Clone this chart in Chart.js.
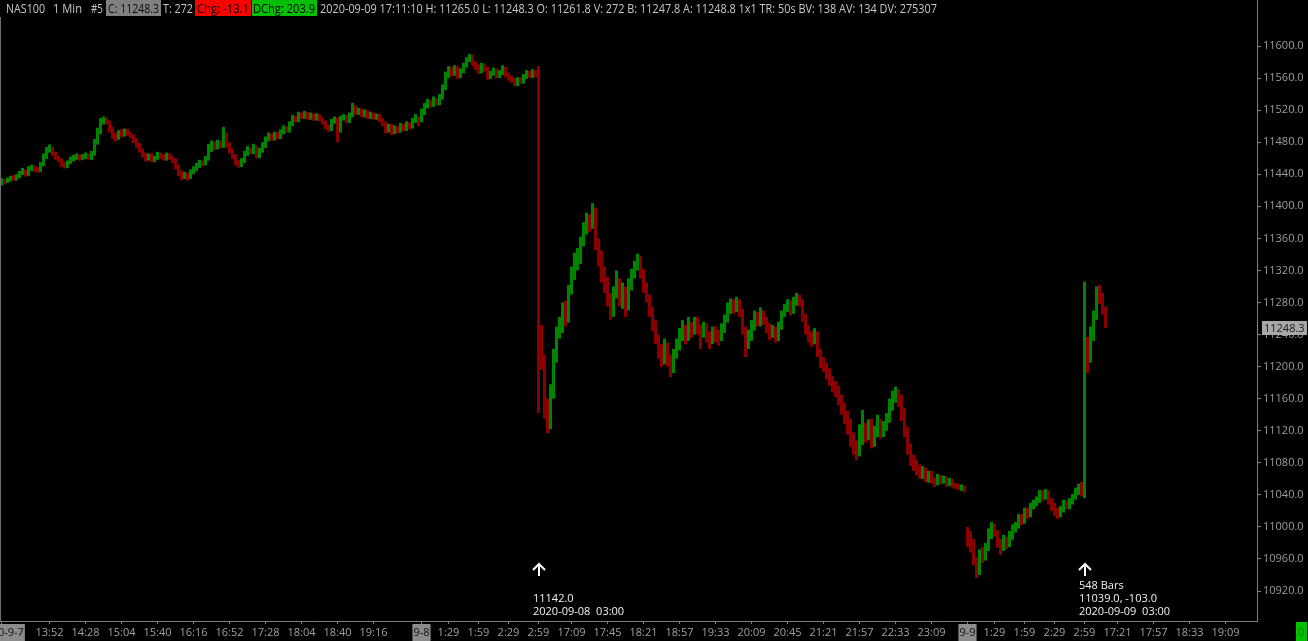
<!DOCTYPE html>
<html>
<head>
<meta charset="utf-8">
<title>NAS100 1 Min</title>
<script src="https://cdn.jsdelivr.net/npm/chart.js@4.4.0/dist/chart.umd.min.js"></script>
<style>
  html, body { margin: 0; padding: 0; background: #000; overflow: hidden; }
  canvas { display: block; }
</style>
</head>
<body>
<canvas id="chart" width="1308" height="641"></canvas>
<script>
// 3 minute candles, 9-7 13:04 -> 9-9 17:11
const opens = [
  11429,11432,11431,11433,11436,11434,11437,11441,11444,11440,
  11447,11449,11446,11445,11452,11462,11470,11472,11466,11461,
  11458,11452,11450,11455,11459,11461,11463,11460,11462,11464,
  11461,11466,11480,11494,11506,11508,11505,11496,11488,11486,
  11492,11490,11494,11491,11488,11482,11477,11470,11464,11460,
  11463,11458,11461,11465,11462,11460,11464,11461,11458,11450,
  11442,11437,11440,11436,11443,11447,11451,11455,11453,11460,
  11472,11478,11474,11479,11476,11490,11477,11469,11462,11455,
  11452,11457,11466,11471,11468,11474,11463,11470,11476,11484,
  11488,11485,11490,11487,11493,11498,11495,11503,11510,11508,
  11514,11512,11516,11511,11514,11510,11513,11509,11505,11499,
  11497,11506,11509,11495,11510,11512,11507,11514,11524,11517,
  11520,11514,11518,11512,11515,11511,11513,11508,11504,11496,
  11500,11493,11498,11495,11501,11497,11503,11500,11507,11510,
  11508,11518,11526,11530,11527,11533,11529,11536,11548,11564,
  11570,11566,11572,11563,11569,11576,11583,11587,11578,11574,
  11569,11576,11571,11562,11566,11570,11563,11567,11572,11564,
  11560,11557,11553,11558,11556,11562,11567,11563,11568,11566,
  11228,11205,11150,11128,11168,11210,11240,11252,11270,11262,
  11295,11318,11330,11336,11356,11372,11385,11378,11396,11352,
  11335,11318,11300,11285,11270,11292,11305,11282,11296,11275,
  11300,11318,11326,11334,11318,11300,11285,11270,11250,11235,
  11220,11210,11225,11208,11198,11215,11226,11240,11248,11238,
  11252,11244,11258,11248,11240,11250,11238,11232,11245,11240,
  11236,11248,11260,11272,11278,11272,11280,11268,11245,11228,
  11238,11252,11262,11256,11266,11258,11250,11240,11246,11236,
  11250,11265,11272,11278,11270,11282,11286,11280,11262,11248,
  11238,11232,11240,11218,11205,11200,11192,11182,11175,11170,
  11160,11148,11135,11125,11112,11100,11092,11110,11125,11115,
  11128,11105,11120,11130,11118,11126,11135,11150,11162,11168,
  11158,11140,11120,11100,11085,11078,11072,11066,11070,11062,
  11066,11058,11055,11062,11057,11060,11054,11058,11052,11051,
  11049,11050,10998,10990,10982,10960,10945,10968,10962,10975,
  10992,11000,10993,10980,10974,10986,10978,10990,10998,11003,
  11012,11008,11020,11016,11026,11030,11034,11042,11038,11044,
  11033,11026,11020,11015,11022,11030,11026,11032,11038,11045,
  11050,11040,11225,11212,11235,11262,11292,11285,11270
];
const highs = [
  11435,11434,11436,11438,11439,11440,11444,11448,11446,11450,
  11452,11451,11449,11455,11466,11474,11477,11474,11468,11463,
  11460,11455,11457,11462,11464,11466,11465,11465,11467,11466,
  11469,11484,11498,11510,11512,11511,11507,11499,11492,11495,
  11496,11497,11497,11493,11490,11485,11479,11472,11467,11466,
  11466,11463,11468,11467,11465,11467,11466,11463,11460,11452,
  11445,11443,11442,11446,11450,11454,11458,11457,11463,11478,
  11482,11481,11483,11482,11499,11492,11480,11472,11465,11458,
  11460,11469,11475,11473,11478,11476,11473,11480,11487,11492,
  11491,11493,11493,11496,11501,11500,11506,11514,11513,11518,
  11517,11519,11518,11517,11516,11516,11515,11511,11507,11502,
  11509,11512,11511,11513,11515,11514,11517,11529,11526,11523,
  11522,11521,11520,11518,11517,11516,11515,11510,11506,11503,
  11503,11501,11500,11504,11503,11506,11505,11510,11515,11512,
  11522,11529,11534,11533,11537,11535,11540,11552,11568,11575,
  11574,11576,11575,11572,11579,11586,11590,11589,11581,11577,
  11579,11578,11574,11569,11573,11572,11570,11576,11574,11567,
  11563,11560,11561,11561,11565,11570,11569,11571,11570,11575,
  11252,11215,11160,11178,11222,11250,11262,11280,11282,11302,
  11325,11342,11348,11362,11380,11392,11390,11404,11398,11360,
  11345,11325,11312,11292,11300,11320,11310,11305,11300,11310,
  11322,11332,11341,11338,11322,11305,11290,11275,11258,11240,
  11228,11235,11230,11215,11222,11235,11248,11258,11252,11262,
  11256,11262,11262,11252,11256,11254,11244,11250,11250,11246,
  11254,11265,11280,11285,11284,11287,11284,11272,11250,11246,
  11258,11270,11268,11274,11270,11262,11254,11252,11250,11256,
  11270,11278,11284,11283,11287,11292,11290,11284,11266,11252,
  11244,11248,11244,11222,11212,11205,11198,11188,11182,11176,
  11165,11155,11145,11135,11118,11108,11128,11146,11130,11134,
  11135,11126,11140,11135,11132,11142,11160,11170,11175,11172,
  11165,11148,11125,11104,11090,11084,11078,11076,11074,11070,
  11070,11062,11066,11065,11064,11063,11061,11060,11055,11054,
  11053,11052,11000,10995,10985,10962,10972,10975,10980,10998,
  11006,11004,10996,10985,10990,10988,10995,11003,11006,11016,
  11016,11024,11024,11030,11034,11038,11046,11046,11047,11046,
  11036,11030,11024,11026,11034,11033,11036,11041,11049,11054,
  11056,11306,11237,11250,11270,11300,11302,11292,11275
];
const lows = [
  11426,11427,11429,11431,11432,11432,11435,11439,11437,11438,
  11444,11443,11442,11443,11450,11459,11467,11463,11458,11455,
  11449,11447,11448,11453,11456,11458,11457,11458,11459,11458,
  11458,11463,11477,11490,11502,11502,11492,11484,11481,11483,
  11486,11487,11488,11485,11479,11473,11467,11461,11456,11457,
  11455,11455,11458,11459,11457,11457,11458,11454,11446,11438,
  11433,11434,11432,11434,11440,11444,11448,11450,11451,11457,
  11468,11470,11471,11472,11473,11473,11466,11459,11451,11448,
  11449,11454,11463,11465,11465,11460,11460,11467,11473,11481,
  11482,11482,11484,11484,11490,11492,11492,11500,11505,11505,
  11509,11509,11508,11508,11507,11507,11506,11502,11496,11493,
  11494,11503,11480,11492,11507,11504,11504,11511,11514,11514,
  11511,11511,11509,11509,11508,11508,11505,11500,11491,11492,
  11489,11490,11491,11492,11494,11494,11496,11497,11504,11500,
  11505,11514,11522,11523,11524,11526,11526,11533,11545,11560,
  11562,11563,11559,11560,11566,11573,11580,11575,11570,11565,
  11566,11568,11558,11559,11563,11560,11560,11564,11561,11557,
  11554,11550,11550,11553,11553,11559,11560,11560,11561,11142,
  11196,11135,11117,11122,11160,11205,11235,11242,11250,11255,
  11290,11308,11320,11328,11350,11365,11368,11372,11345,11325,
  11305,11292,11275,11258,11262,11285,11275,11272,11262,11270,
  11295,11310,11320,11310,11292,11280,11262,11244,11228,11210,
  11200,11203,11200,11187,11192,11210,11220,11232,11228,11232,
  11236,11240,11240,11222,11236,11230,11222,11228,11230,11226,
  11232,11242,11255,11266,11266,11268,11262,11240,11212,11222,
  11232,11245,11250,11250,11252,11242,11233,11236,11230,11232,
  11246,11262,11268,11264,11266,11276,11275,11256,11240,11230,
  11225,11228,11212,11198,11193,11184,11176,11168,11162,11152,
  11140,11128,11115,11100,11090,11083,11088,11102,11105,11108,
  11098,11100,11112,11110,11112,11120,11130,11145,11155,11150,
  11132,11112,11090,11076,11070,11064,11060,11060,11056,11055,
  11054,11050,11052,11053,11054,11050,11051,11049,11047,11046,
  11045,11043,10975,10968,10952,10936,10940,10955,10958,10970,
  10985,10988,10974,10965,10970,10972,10975,10984,10993,10998,
  11002,11004,11010,11012,11022,11026,11030,11032,11034,11028,
  11020,11014,11010,11012,11018,11022,11022,11028,11034,11040,
  11038,11036,11192,11205,11232,11258,11278,11265,11248
];
const closes = [
  11432,11430,11433,11435,11434,11437,11441,11444,11440,11447,
  11449,11446,11445,11452,11462,11470,11472,11466,11461,11458,
  11452,11450,11455,11459,11461,11463,11460,11462,11464,11461,
  11466,11480,11494,11506,11508,11505,11496,11488,11486,11492,
  11490,11494,11491,11488,11482,11477,11470,11464,11460,11463,
  11458,11461,11465,11462,11460,11464,11461,11458,11450,11442,
  11437,11440,11436,11443,11447,11451,11455,11453,11460,11472,
  11478,11474,11479,11476,11490,11477,11469,11462,11455,11452,
  11457,11466,11471,11468,11474,11463,11470,11476,11484,11488,
  11485,11490,11487,11493,11498,11495,11503,11510,11508,11514,
  11512,11516,11511,11514,11510,11513,11509,11505,11499,11497,
  11506,11509,11495,11510,11512,11507,11514,11524,11517,11520,
  11514,11518,11512,11515,11511,11513,11508,11504,11496,11500,
  11493,11498,11495,11501,11497,11503,11500,11507,11510,11503,
  11518,11526,11530,11527,11533,11529,11536,11548,11564,11570,
  11566,11572,11563,11569,11576,11583,11587,11578,11574,11569,
  11576,11571,11562,11566,11570,11563,11567,11572,11564,11560,
  11557,11553,11558,11556,11562,11567,11563,11568,11564,11228,
  11205,11150,11128,11168,11210,11240,11252,11270,11262,11295,
  11318,11330,11336,11356,11372,11385,11378,11396,11352,11335,
  11318,11300,11285,11270,11292,11305,11282,11296,11275,11300,
  11318,11326,11334,11318,11300,11285,11270,11250,11235,11220,
  11210,11225,11208,11198,11215,11226,11240,11248,11238,11252,
  11244,11258,11248,11240,11250,11238,11232,11245,11240,11236,
  11248,11260,11272,11278,11272,11280,11268,11245,11228,11238,
  11252,11262,11256,11266,11258,11250,11240,11246,11236,11250,
  11265,11272,11278,11270,11282,11286,11280,11262,11248,11238,
  11232,11240,11218,11205,11200,11192,11182,11175,11170,11160,
  11148,11135,11125,11112,11100,11092,11110,11125,11115,11128,
  11105,11120,11130,11118,11126,11135,11150,11162,11168,11158,
  11140,11120,11100,11085,11078,11072,11066,11070,11062,11066,
  11058,11055,11062,11057,11060,11054,11058,11052,11051,11049,
  11050,11047,10990,10982,10960,10945,10968,10962,10975,10992,
  11000,10993,10980,10974,10986,10978,10990,10998,11003,11012,
  11008,11020,11016,11026,11030,11034,11042,11038,11044,11033,
  11026,11020,11015,11022,11030,11026,11032,11038,11045,11050,
  11044,11225,11212,11235,11262,11292,11285,11270,11248
];

const totalSlots = 419;   // candle slots incl. the empty space on the right
const xTickSlots = [0, 16, 28, 40, 52, 64, 76, 88, 100, 112, 124, 140, 149, 159, 169, 179,
  190, 202, 214, 226, 238, 250, 262, 274, 286, 298, 310, 322, 331, 341, 351, 361, 372, 384, 396, 408];
const xTickLabels = ['2020-9-7', '13:52', '14:28', '15:04', '15:40', '16:16', '16:52', '17:28', '18:04',
  '18:40', '19:16', '9-8', '1:29', '1:59', '2:29', '2:59', '17:09', '17:45', '18:21', '18:57', '19:33',
  '20:09', '20:45', '21:21', '21:57', '22:33', '23:09', '9-9', '1:29', '1:59', '2:29', '2:59',
  '17:21', '17:57', '18:33', '19:09'];
const yTicks = [10920, 10960, 11000, 11040, 11080, 11120, 11160, 11200, 11240, 11280,
  11320, 11360, 11400, 11440, 11480, 11520, 11560, 11600];
const yMin = 10882.6;
const yMax = 11636.2;
const lastPrice = 11248.3;

// bar markers placed on the chart
const markers = [
  { slot: 179, lines: ['11142.0', '2020-09-08  03:00'] },
  { slot: 361, lines: ['548 Bars', '11039.0, -103.0', '2020-09-09  03:00'] }
];

const headerParts = [
  { text: 'NAS100', x: 6, w: 39 },
  { text: '1 Min', x: 53, w: 29 },
  { text: '#5', x: 91, w: 12 },
  { text: 'C: 11248.3', x: 108, w: 51, bg: '#808080', bx: 106, bw: 55, color: '#0c0c0c' },
  { text: 'T: 272', x: 163, w: 30 },
  { text: 'Chg: -13.1', x: 197, w: 52, bg: '#ff0000', bx: 195, bw: 56, color: '#000' },
  { text: 'DChg: 203.9', x: 253, w: 62, bg: '#00c000', bx: 252, bw: 65, color: '#000' },
  { text: '2020-09-09 17:11:10 H: 11265.0 L: 11248.3 O: 11261.8 V: 272 B: 11247.8 A: 11248.8 1x1 TR: 50s BV: 138 AV: 134 DV: 275307', x: 320, w: 617 }
];

const FONT = '"Open Sans", "Noto Sans", sans-serif';
const UP = '#008400';
const DOWN = '#8a0000';
const AXIS = '#808080';

// draw text squeezed/stretched to a width
function fitText(ctx, text, x, y, w) {
  const m = ctx.measureText(text).width;
  ctx.save();
  ctx.translate(x, y);
  ctx.scale(w / m, 1);
  ctx.fillText(text, 0, 0);
  ctx.restore();
}

const overlay = {
  id: 'overlay',
  afterDraw(chart) {
    const ctx = chart.ctx;
    const area = chart.chartArea;
    const xs = chart.scales.x;
    const ys = chart.scales.y;
    ctx.save();

    // left edge and the price axis line up to the top
    ctx.fillStyle = '#6e6e6e';
    ctx.fillRect(0, area.top, 1, area.bottom - area.top);
    ctx.fillStyle = AXIS;
    ctx.fillRect(Math.round(area.right), 0, 1, area.top);

    // header line
    ctx.font = '12px ' + FONT;
    ctx.textBaseline = 'alphabetic';
    headerParts.forEach(h => {
      if (h.bg) {
        ctx.fillStyle = h.bg;
        ctx.fillRect(h.bx, 0, h.bw, 16);
      }
      ctx.fillStyle = h.color || '#c8c8c8';
      fitText(ctx, h.text, h.x, 13, h.w);
    });

    // current price box on the axis
    const py = ys.getPixelForValue(lastPrice);
    ctx.fillStyle = '#a8a8a8';
    ctx.fillRect(Math.round(area.right) + 5, Math.round(py) - 7, 45, 14);
    ctx.fillStyle = '#161616';
    ctx.font = '11px ' + FONT;
    ctx.textBaseline = 'middle';
    ctx.fillText(lastPrice.toFixed(1), Math.round(area.right) + 7, py + 0.5);

    // arrows + notes
    ctx.textBaseline = 'alphabetic';
    markers.forEach(m => {
      const ax = Math.round(xs.getPixelForValue(m.slot));
      ctx.strokeStyle = '#ffffff';
      ctx.lineWidth = 2;
      ctx.beginPath();
      ctx.moveTo(ax, 565);
      ctx.lineTo(ax, 576);
      ctx.moveTo(ax - 6, 570);
      ctx.lineTo(ax, 564);
      ctx.lineTo(ax + 6, 570);
      ctx.stroke();
      ctx.fillStyle = '#f2f2f2';
      ctx.font = '11px ' + FONT;
      m.lines.forEach((t, k) => {
        ctx.fillText(t, ax - 6, 615 - (m.lines.length - 1 - k) * 13);
      });
    });

    // little green box bottom right
    ctx.fillStyle = '#00c000';
    ctx.fillRect(1296, 622, 11, 19);
    ctx.fillStyle = '#007a00';
    ctx.font = '11px ' + FONT;
    ctx.fillText('0', 1298, 636);

    ctx.restore();
  }
};

const isDate = t => t && t.label && t.label.indexOf('-') >= 0;

new Chart(document.getElementById('chart'), {
  type: 'bar',
  data: {
    labels: Array.from({ length: totalSlots }, (_, i) => String(i)),
    datasets: [{
      data: lows.map((l, i) => [l, highs[i]]),
      backgroundColor: closes.map((c, i) => c >= opens[i] ? UP : DOWN),
      barThickness: 3,
      inflateAmount: 0,
      borderWidth: 0
    }]
  },
  options: {
    responsive: false,
    devicePixelRatio: 1,
    animation: false,
    events: [],
    layout: { padding: { top: 17, left: 0, right: 0, bottom: 0 } },
    plugins: { legend: { display: false }, tooltip: { enabled: false } },
    scales: {
      x: {
        type: 'category',
        offset: true,
        grid: { drawOnChartArea: false, drawTicks: true, tickLength: 3, color: AXIS, offset: false },
        border: { display: true, color: AXIS },
        ticks: {
          autoSkip: false,
          maxRotation: 0,
          padding: 2,
          font: { family: FONT, size: 11 },
          color: ctx => isDate(ctx.tick) ? '#101010' : '#a0a0a0',
          showLabelBackdrop: ctx => isDate(ctx.tick),
          backdropColor: '#8c8c8c',
          backdropPadding: { top: 2, bottom: 2, left: 1, right: 1 },
          callback: v => xTickLabels[xTickSlots.indexOf(v)]
        },
        afterBuildTicks: s => { s.ticks = xTickSlots.map(v => ({ value: v })); },
        afterFit: s => { s.height = 20; s.paddingLeft = 0; s.paddingRight = 0; }
      },
      y: {
        position: 'right',
        min: yMin,
        max: yMax,
        grid: { drawOnChartArea: false, drawTicks: true, tickLength: 4, color: AXIS },
        border: { display: true, color: AXIS },
        ticks: {
          padding: 2,
          font: { family: FONT, size: 11 },
          color: '#9c9c9c',
          callback: v => Number(v).toFixed(1)
        },
        afterBuildTicks: s => { s.ticks = yTicks.map(v => ({ value: v })); },
        afterFit: s => { s.width = 51; }
      }
    }
  },
  plugins: [overlay]
});
</script>
</body>
</html>
